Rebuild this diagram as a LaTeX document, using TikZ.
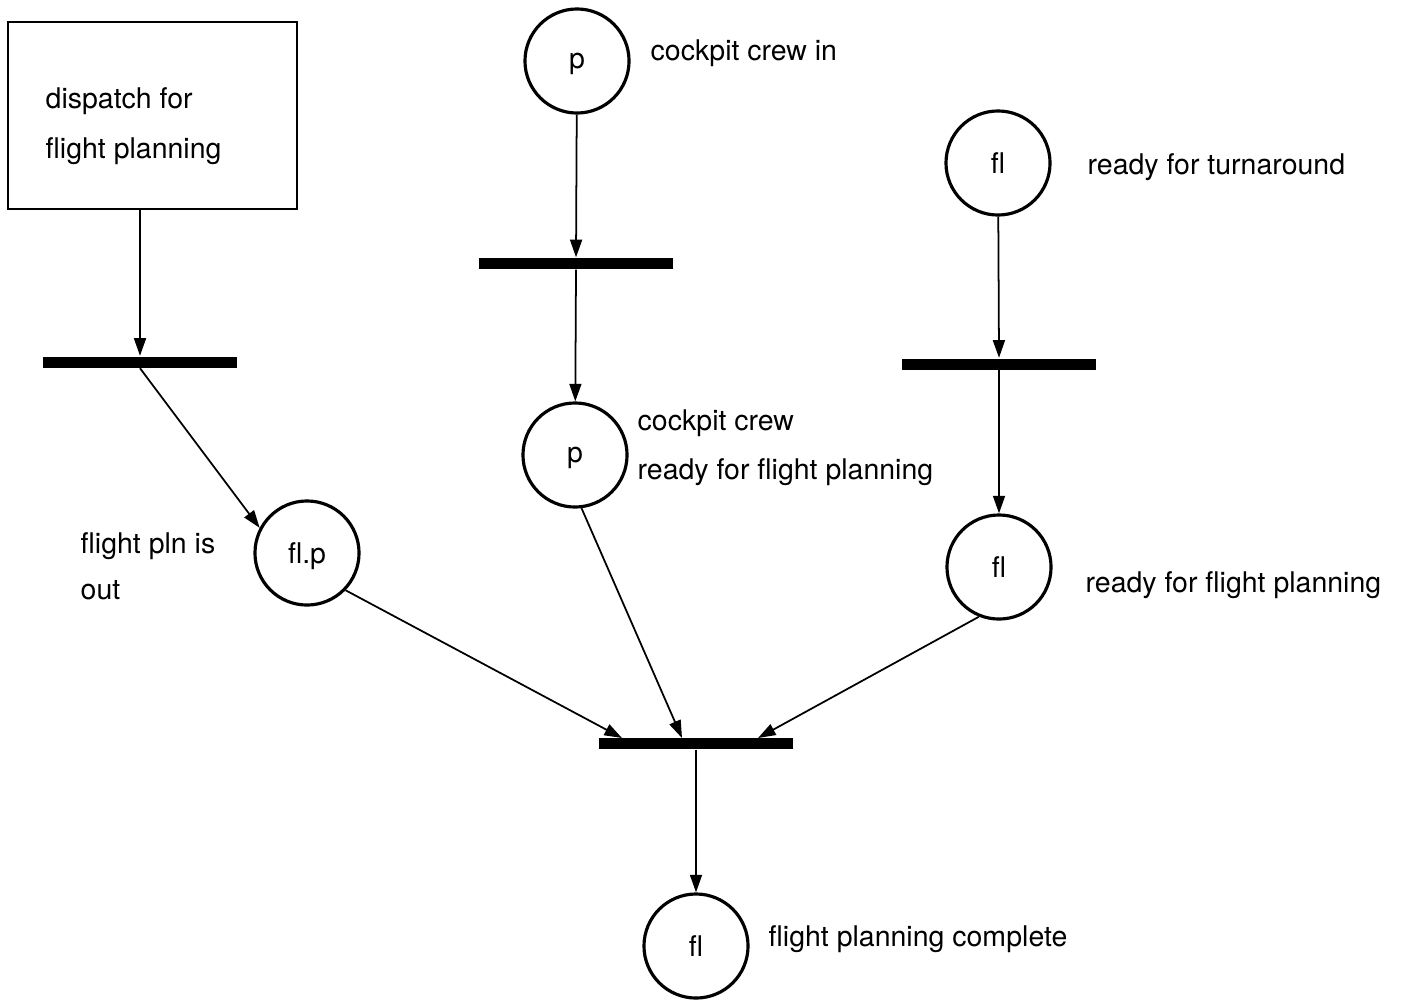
\documentclass[tikz,border=0pt]{standalone}
\usepackage{fontspec}
\setmainfont{TeX Gyre Heros}
\usetikzlibrary{arrows.meta}
\begin{document}
\begin{tikzpicture}[x=0.01cm,y=-0.01cm,
  font=\fontsize{8.1}{10}\selectfont,
  place/.style={circle,draw,line width=0.9pt,minimum size=1.04cm,inner sep=0pt,text depth=0pt},
  trans/.style={rectangle,fill=black,draw=none,minimum width=1.93cm,minimum height=0.11cm,inner sep=0pt},
  actbox/.style={rectangle,draw,line width=0.6pt,minimum width=2.89cm,minimum height=1.87cm,inner sep=0pt},
  arr/.style={line width=0.5pt,-{Triangle[length=5pt,width=3.4pt]}},
  lbl/.style={anchor=base west,inner sep=0pt}]
\useasboundingbox (0,0) rectangle (1401,1000);

% activity box
\node[actbox] (disp) at (152.5,115.5) {};
\node[lbl] (dispA) at (45,108) {dispatch for};
\node[lbl] (dispB) at (45,158) {flight planning};

% transitions
\node[trans] (t1) at (140,362) {};
\node[trans] (t2) at (576,263.5) {};
\node[trans] (t3) at (999,364) {};
\node[trans] (t4) at (696,743.5) {};

% places
\node[place] (pA) at (577,61) {p};
\node[place] (pB) at (575,455) {p};
\node[place] (flA) at (998,163) {fl};
\node[place] (flB) at (999,567) {fl};
\node[place] (flp) at (307,553) {fl.p};
\node[place] (flC) at (696,946) {fl};

% place labels
\node[lbl] (lpA) at (650,60) {cockpit crew in};
\node[lbl] (lpB1) at (637,430) {cockpit crew};
\node[lbl] (lpB2) at (637,479) {ready for flight planning};
\node[lbl] (lflA) at (1087,174) {ready for turnaround};
\node[lbl] (lflB) at (1085,592) {ready for flight planning};
\node[lbl] (lflp1) at (80,553) {flight pln is};
\node[lbl] (lflp2) at (80,599) {out};
\node[lbl] (lflC) at (768,946) {flight planning complete};

% entry points on the joining transition
\coordinate (in1) at (622,738);
\coordinate (in2) at (682,738);
\coordinate (in3) at (758,738);

% arcs
\draw[arr] (disp.south -| t1.north) -- (t1.north);
\draw[arr] (t1.south) -- (flp.152);
\draw[arr] (pA) -- (t2.north);
\draw[arr] (t2.south) -- (pB);
\draw[arr] (flA) -- (t3.north);
\draw[arr] (t3.south) -- (flB);
\draw[arr] (flp.-44) -- (in1);
\draw[arr] (pB.-83) -- (in2);
\draw[arr] (flB.-112) -- (in3);
\draw[arr] (t4.south) -- (flC);
\end{tikzpicture}
\end{document}
